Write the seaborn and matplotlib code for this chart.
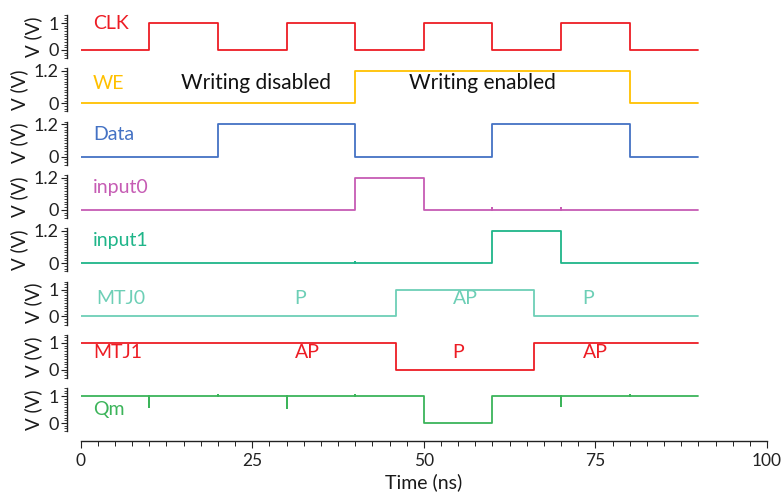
import numpy as np
import pandas as pd
import matplotlib
matplotlib.use("Agg")
import matplotlib.pyplot as plt
import seaborn as sns
from matplotlib.ticker import MultipleLocator, FixedLocator

sns.set_theme(style="white")
plt.rcParams["font.family"] = ["Lato", "DejaVu Sans"]

# ---------------- data ----------------
names = ["CLK", "WE", "Data", "input0", "input1", "MTJ0", "MTJ1", "Qm"]
colors = ["#ED1C24", "#FFC000", "#4472C4", "#C65CB4", "#1FB589",
          "#6DCFB6", "#ED1C24", "#3CB45A"]
t_end = 90

clk_edges = [10, 20, 30, 40, 50, 60, 70, 80]
clk_levels = [0, 1, 0, 1, 0, 1, 0, 1, 0]
we_edges = [40, 80]
we_levels = [0, 1.2, 0]
data_edges = [20, 40, 60, 80]
data_levels = [0, 1.2, 0, 1.2, 0]
in0_edges = [40, 50]
in0_levels = [0, 1.2, 0]
in1_edges = [60, 70]
in1_levels = [0, 1.2, 0]
mtj0_edges = [46, 66]
mtj0_levels = [0, 1, 0]
mtj1_edges = [46, 66]
mtj1_levels = [1, 0, 1]
qm_edges = [50, 60]
qm_levels = [1, 0, 1]

# glitches: (time, deviation from current level)
in0_glitches = [(60, 0.05), (70, 0.05)]
in1_glitches = [(40, 0.05)]
qm_glitches = [(10, -0.4), (20, 0.05), (30, -0.45), (40, 0.04), (70, -0.35), (80, 0.04)]

full_scale = ["1", "1.2", "1.2", "1.2", "1.2", "1", "1", "1"]

signals = [
    (clk_edges, clk_levels, []),
    (we_edges, we_levels, []),
    (data_edges, data_levels, []),
    (in0_edges, in0_levels, in0_glitches),
    (in1_edges, in1_levels, in1_glitches),
    (mtj0_edges, mtj0_levels, []),
    (mtj1_edges, mtj1_levels, []),
    (qm_edges, qm_levels, qm_glitches),
]

# label positions (time, level)
label_pos = [(1.8, 1.0), (1.8, 0.75), (1.8, 0.82), (1.8, 0.82), (1.8, 0.86),
             (2.2, 0.67), (1.8, 0.63), (1.8, 0.49)]

state_texts = {
    1: [("Writing disabled", 25.5, 0.75), ("Writing enabled", 58.5, 0.75)],
    5: [("P", 32, 0.67), ("AP", 56, 0.67), ("P", 74, 0.67)],
    6: [("AP", 33, 0.63), ("P", 55, 0.63), ("AP", 75, 0.63)],
}


def wave(edges, levels, glitches):
    events = [(e, 0, i) for i, e in enumerate(edges)] + [(t, 1, d) for t, d in glitches]
    events.sort()
    cur = levels[0]
    xs, ys = [0], [cur]
    for t, kind, v in events:
        if kind == 0:
            nxt = levels[v + 1]
            xs += [t, t]
            ys += [cur, nxt]
            cur = nxt
        else:
            xs += [t, t, t]
            ys += [cur, cur + v, cur]
    xs.append(t_end)
    ys.append(cur)
    return pd.DataFrame({"t": xs, "v": ys})


W, H = 783, 494
fig = plt.figure(figsize=(W / 100, H / 100), dpi=100)
left = 80.7 / W
width = (767 - 80.7) / W
tops = [15 + 53.3 * i for i in range(8)]
ph = 43

axes = []
for i, (edges, levels, gl) in enumerate(signals):
    ax = fig.add_axes([left, 1 - (tops[i] + ph) / H, width, ph / H])
    axes.append(ax)
    df = wave(edges, levels, gl)
    sns.lineplot(data=df, x="t", y="v", sort=False, estimator=None,
                 color=colors[i], lw=1.3, ax=ax)
    ax.set_xlim(0, 100)
    ax.set_ylim(-0.3, 1.3)
    top_val = float(full_scale[i])
    ax.yaxis.set_major_locator(FixedLocator([0, top_val]))
    ax.set_yticklabels(["0", full_scale[i]])
    ax.yaxis.set_minor_locator(MultipleLocator(0.1))
    ax.tick_params(axis="y", which="major", direction="out", length=4, width=0.8,
                   colors="#222222", labelsize=13, pad=2, left=True)
    ax.tick_params(axis="y", which="minor", direction="out", length=2.5, width=0.6,
                   colors="#222222", left=True)
    ax.set_ylabel("V (V)", fontsize=13.5, color="#1a1a1a", labelpad=4)
    for s in ["top", "right"]:
        ax.spines[s].set_visible(False)
    ax.spines["left"].set_position(("outward", 10))
    ax.spines["left"].set_color("#222222")
    ax.spines["left"].set_linewidth(1.0)
    if i < 7:
        ax.spines["bottom"].set_visible(False)
        ax.set_xticks([])
        ax.set_xlabel("")
    ax.set_facecolor("none")
    lx, ly = label_pos[i]
    ax.text(lx, ly, names[i], color=colors[i], fontsize=14, va="center", ha="left")
    for txt, tx, ty in state_texts.get(i, []):
        if i == 1:
            ax.text(tx, ty, txt, color="#111111", fontsize=15, va="center", ha="center")
        else:
            ax.text(tx, ty, txt, color=colors[i], fontsize=14, va="center", ha="center")

axb = axes[-1]
axb.spines["bottom"].set_position(("outward", 7))
axb.spines["bottom"].set_color("#222222")
axb.spines["bottom"].set_linewidth(1.0)
axb.xaxis.set_major_locator(FixedLocator([0, 25, 50, 75, 100]))
axb.xaxis.set_minor_locator(MultipleLocator(2.5))
axb.tick_params(axis="x", which="major", direction="out", length=5, width=0.8,
                colors="#222222", labelsize=12.5, bottom=True)
axb.tick_params(axis="x", which="minor", direction="out", length=3.5, width=0.7,
                colors="#222222", bottom=True)
axb.set_xlabel("Time (ns)", fontsize=14, color="#1a1a1a", labelpad=3)

fig.savefig("out.png", dpi=100)
